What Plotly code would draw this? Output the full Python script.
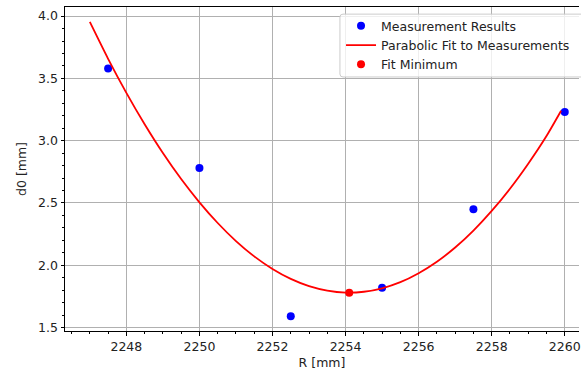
import plotly.graph_objects as go

# Measurement data
meas_r = [2247.5, 2250.0, 2252.5, 2255.0, 2257.5, 2260.0]
meas_d0 = [3.58, 2.78, 1.59, 1.82, 2.45, 3.23]

# Parabolic fit curve
fit_r = [2247.0, 2247.5, 2248.0, 2248.5, 2249.0, 2249.5, 2250.0, 2250.5, 2251.0,
         2251.5, 2252.0, 2252.5, 2253.0, 2253.5, 2254.0, 2254.5, 2255.0, 2255.5,
         2256.0, 2256.5, 2257.0, 2257.5, 2258.0, 2258.5, 2259.0, 2259.5, 2259.9]
fit_d0 = [3.953, 3.657, 3.384, 3.132, 2.901, 2.692, 2.505, 2.339, 2.194,
          2.071, 1.970, 1.890, 1.832, 1.796, 1.780, 1.787, 1.815, 1.864,
          1.936, 2.028, 2.142, 2.278, 2.436, 2.614, 2.815, 3.037, 3.240]

# Fit minimum
min_r = [2254.1]
min_d0 = [1.78]

FONT = "DejaVu Sans"

fig = go.Figure()
fig.add_trace(go.Scatter(x=meas_r, y=meas_d0, mode="markers", name="Measurement Results",
                         marker=dict(color="blue", size=8)))
fig.add_trace(go.Scatter(x=fit_r, y=fit_d0, mode="lines", name="Parabolic Fit to Measurements",
                         line=dict(color="red", width=1.8, shape="spline", smoothing=0.6)))
fig.add_trace(go.Scatter(x=min_r, y=min_d0, mode="markers", name="Fit Minimum",
                         marker=dict(color="red", size=8)))

# Legend frame (extends past the right edge like the reference)
x0, x1, y0, y1 = 0.5349, 1.06, 0.784, 0.978
rx, ry = 0.006, 0.009
frame_path = (f"M {x0+rx},{y1} L {x1},{y1} L {x1},{y0} L {x0+rx},{y0} "
              f"Q {x0},{y0} {x0},{y0+ry} L {x0},{y1-ry} Q {x0},{y1} {x0+rx},{y1} Z")

fig.update_layout(
    width=581, height=370,
    margin=dict(l=65, r=0, t=7, b=39),
    paper_bgcolor="white", plot_bgcolor="white",
    font=dict(family=FONT, size=12.5, color="#222222"),
    showlegend=True,
    legend=dict(x=0.537, y=0.987, xanchor="left", yanchor="top",
                bgcolor="rgba(0,0,0,0)", borderwidth=0,
                font=dict(family=FONT, size=12.5, color="#222222"), tracegroupgap=0),
    shapes=[dict(type="path", path=frame_path, xref="paper", yref="paper",
                 fillcolor="rgba(255,255,255,0.8)", line=dict(color="#cccccc", width=1),
                 layer="above")],
)
fig.update_xaxes(
    range=[2246.32, 2260.39], tick0=2248, dtick=2, ticklabeloverflow="allow",
    showgrid=True, gridcolor="#b0b0b0", gridwidth=0.8,
    showline=True, linecolor="black", linewidth=1, mirror=True,
    ticks="outside", ticklen=3.5, tickcolor="black", zeroline=False,
    minor=dict(dtick=0.5, ticks="outside", ticklen=2, tickcolor="black", showgrid=False),
    title=dict(text="R [mm]", font=dict(family=FONT, size=12.5), standoff=6),
)
fig.update_yaxes(
    range=[1.472, 4.073], tick0=1.5, dtick=0.5, tickformat=".1f",
    showgrid=True, gridcolor="#b0b0b0", gridwidth=0.8,
    showline=True, linecolor="black", linewidth=1, mirror=False,
    ticks="outside", ticklen=3.5, tickcolor="black", zeroline=False,
    minor=dict(dtick=0.1, ticks="outside", ticklen=2, tickcolor="black", showgrid=False),
    title=dict(text="d0 [mm]", font=dict(family=FONT, size=12.5), standoff=8),
)

fig.write_html("out.html")
